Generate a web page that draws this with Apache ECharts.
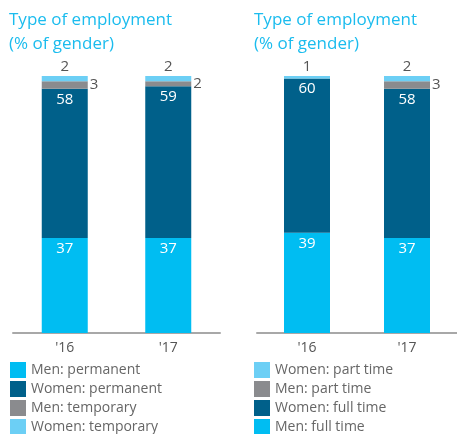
<!DOCTYPE html>
<html>
<head>
<meta charset="utf-8">
<script src="https://cdn.jsdelivr.net/npm/echarts@6/dist/echarts.min.js"></script>
<style>
  html, body { margin: 0; padding: 0; background: #fff; }
  #chart { width: 457px; height: 434px; }
</style>
</head>
<body>
<div id="chart"></div>
<script>
// data
var years = ["'16", "'17"]
var menPermanent = [37, 37]
var womenPermanent = [58, 59]
var menTemporary = [3, 2]
var womenTemporary = [2, 2]
var menFullTime = [39, 37]
var womenFullTime = [60, 58]
var menPartTime = [0, 3]
var womenPartTime = [1, 2]

var cyan = '#00bdf2'
var navy = '#00608a'
var grey = '#8a8b8e'
var light = '#6ccff5'
var font = 'Open Sans'

function hideZero(p) { return p.value ? p.value : '' }

function insideLabel() {
  return { show: true, position: 'insideTop', distance: 3, color: '#fff', fontSize: 15, fontFamily: font, formatter: hideZero }
}
function outLabel(pos) {
  return { show: true, position: pos, distance: 2, color: '#555', fontSize: 15, fontFamily: font, formatter: hideZero }
}

function bar(name, data, idx, color, label) {
  return {
    name: name, type: 'bar', stack: 's' + idx, data: data,
    xAxisIndex: idx, yAxisIndex: idx, barWidth: 46,
    itemStyle: { color: color }, label: label
  }
}

var titleStyle = { color: '#1bbcee', fontSize: 17, fontWeight: 'normal', lineHeight: 24, fontFamily: font }
var legendText = { color: '#666', fontSize: 14, fontFamily: font }

var chart = echarts.init(document.getElementById('chart'))
var option = {
  animation: false,
  title: [
    { text: 'Type of employment\n(% of gender)', left: 9, top: 8, padding: 0, textStyle: titleStyle },
    { text: 'Type of employment\n(% of gender)', left: 254, top: 8, padding: 0, textStyle: titleStyle }
  ],
  grid: [
    { left: 13, top: 76, width: 207, height: 257 },
    { left: 257, top: 76, width: 206, height: 257 }
  ],
  xAxis: [0, 1].map(function (i) {
    return {
      type: 'category', gridIndex: i, data: years,
      axisLine: { lineStyle: { color: '#a8a8a8', width: 2 } },
      axisTick: { show: false },
      axisLabel: { color: '#555', fontSize: 14, fontFamily: font, margin: 8 }
    }
  }),
  yAxis: [0, 1].map(function (i) {
    return { type: 'value', gridIndex: i, min: 0, max: 100, show: false, splitLine: { show: false } }
  }),
  legend: [
    { orient: 'vertical', left: 10, top: 362, width: 200, height: 80, padding: 0,
      itemWidth: 16, itemHeight: 16, itemGap: 3,
      icon: 'rect', textStyle: legendText,
      data: ['Men: permanent', 'Women: permanent', 'Men: temporary', 'Women: temporary'] },
    { orient: 'vertical', left: 254, top: 362, width: 200, height: 80, padding: 0,
      itemWidth: 16, itemHeight: 16, itemGap: 3,
      icon: 'rect', textStyle: legendText,
      data: ['Women: part time', 'Men: part time', 'Women: full time', 'Men: full time'] }
  ],
  series: [
    bar('Men: permanent', menPermanent, 0, cyan, insideLabel()),
    bar('Women: permanent', womenPermanent, 0, navy, insideLabel()),
    bar('Men: temporary', menTemporary, 0, grey, outLabel('right')),
    bar('Women: temporary', womenTemporary, 0, light, outLabel('top')),
    bar('Men: full time', menFullTime, 1, cyan, insideLabel()),
    bar('Women: full time', womenFullTime, 1, navy, insideLabel()),
    bar('Men: part time', menPartTime, 1, grey, outLabel('right')),
    bar('Women: part time', womenPartTime, 1, light, outLabel('top'))
  ]
}
chart.setOption(option)
</script>
</body>
</html>
